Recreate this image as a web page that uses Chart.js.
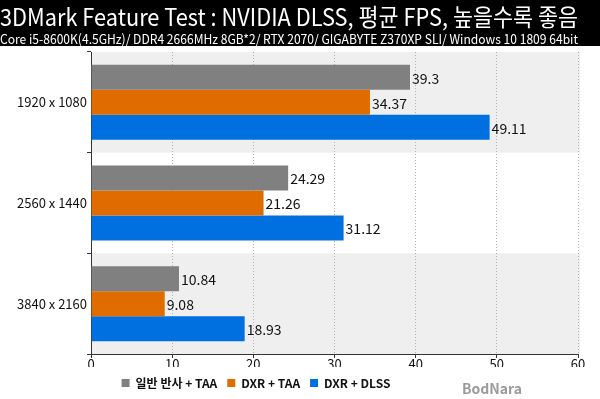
<!DOCTYPE html>
<html><head><meta charset="utf-8">
<script src="https://cdn.jsdelivr.net/npm/chart.js@4/dist/chart.umd.min.js"></script>
<style>html,body{margin:0;padding:0;background:#fff;}#wrap{width:600px;height:399px;}</style>
</head><body><div id="wrap"><canvas id="c" width="600" height="399"></canvas></div>
<script>
const titleText = '3DMark Feature Test : NVIDIA DLSS, 평균 FPS, 높을수록 좋음';
const subtitleText = 'Core i5-8600K(4.5GHz)/ DDR4 2666MHz 8GB*2/ RTX 2070/ GIGABYTE Z370XP SLI/ Windows 10 1809 64bit';
const categories = ['1920 x 1080', '2560 x 1440', '3840 x 2160'];
const seriesNames = ['일반 반사 + TAA', 'DXR + TAA', 'DXR + DLSS'];
const normalTAA = [39.3, 24.29, 10.84];
const dxrTAA = [34.37, 21.26, 9.08];
const dxrDLSS = [49.11, 31.12, 18.93];
const xTicks = [0, 10, 20, 30, 40, 50, 60];
const colors = ['#808080', '#e06c00', '#006fdf'];
const FONT = '"Noto Sans CJK KR", "Noto Sans", sans-serif';

const bgPlugin = {
  id: 'bg',
  afterLayout(chart) {
    if (chart.legend) chart.legend.right = 512;
  },
  beforeDraw(chart) {
    const ctx = chart.ctx, ca = chart.chartArea, y = chart.scales.y;
    ctx.save();
    ctx.fillStyle = '#000';
    ctx.fillRect(0, 0, chart.width, 46);
    const n = categories.length;
    const step = (ca.bottom - ca.top) / n;
    ctx.fillStyle = '#efefef';
    for (let i = 0; i < n; i++) {
      if (i % 2 === 0) {
        const c = y.getPixelForValue(i);
        ctx.fillRect(ca.left, c - step / 2, ca.right - ca.left + 2, step);
      }
    }
    ctx.restore();
  },
  afterDatasetsDraw(chart) {
    const ctx = chart.ctx;
    ctx.save();
    ctx.font = '14px ' + FONT;
    ctx.fillStyle = '#111';
    ctx.textBaseline = 'middle';
    ctx.textAlign = 'left';
    chart.data.datasets.forEach((ds, di) => {
      chart.getDatasetMeta(di).data.forEach((el, i) => {
        ctx.fillText(String(ds.data[i]), el.x + 2, el.y + 1);
      });
    });
    ctx.font = 'bold 14px ' + FONT;
    ctx.fillStyle = '#9a9a9a';
    ctx.fillText('BodNara', 462, 389);
    ctx.restore();
  }
};

new Chart(document.getElementById('c'), {
  type: 'bar',
  data: {
    labels: categories,
    datasets: [
      { label: seriesNames[0], data: normalTAA, backgroundColor: colors[0] },
      { label: seriesNames[1], data: dxrTAA, backgroundColor: colors[1] },
      { label: seriesNames[2], data: dxrDLSS, backgroundColor: colors[2] }
    ]
  },
  options: {
    indexAxis: 'y',
    responsive: false,
    animation: false,
    devicePixelRatio: 1,
    categoryPercentage: 0.745,
    barPercentage: 1,
    layout: { padding: { left: 0, right: 22, top: 0, bottom: 0 } },
    plugins: {
      title: {
        display: true, text: titleText, color: '#fff', align: 'start',
        font: { family: FONT, size: 23.6, weight: 'normal', lineHeight: 1.2 },
        padding: { top: 3, bottom: 0 }
      },
      subtitle: {
        display: true, text: subtitleText, color: '#fff', align: 'start',
        font: { family: FONT, size: 12.9, weight: 'normal', lineHeight: 1.2 },
        padding: { top: 0, bottom: 5.2 }
      },
      legend: {
        position: 'bottom',
        labels: {
          boxWidth: 8, boxHeight: 8, padding: 10, color: '#111',
          font: { family: FONT, size: 12, weight: 'bold' }
        }
      },
      tooltip: { enabled: false }
    },
    scales: {
      x: {
        min: 0, max: 60,
        afterBuildTicks(scale) { scale.ticks = xTicks.map(v => ({ value: v })); },
        ticks: { color: '#111', font: { family: FONT, size: 13 }, padding: -2 },
        grid: { color: '#b0b0b0', tickColor: '#333', tickLength: 4, lineWidth: 1 },
        border: { color: '#333', dash: [1, 2] },
        afterFit(scale) { scale.height = 13; }
      },
      y: {
        ticks: { color: '#111', font: { family: FONT, size: 13 }, padding: 0 },
        grid: { offset: true, drawOnChartArea: false, tickColor: '#333', tickLength: 4 },
        border: { color: '#333' },
        afterFit(scale) { scale.width = 91; }
      }
    }
  },
  plugins: [bgPlugin]
});
</script></body></html>
